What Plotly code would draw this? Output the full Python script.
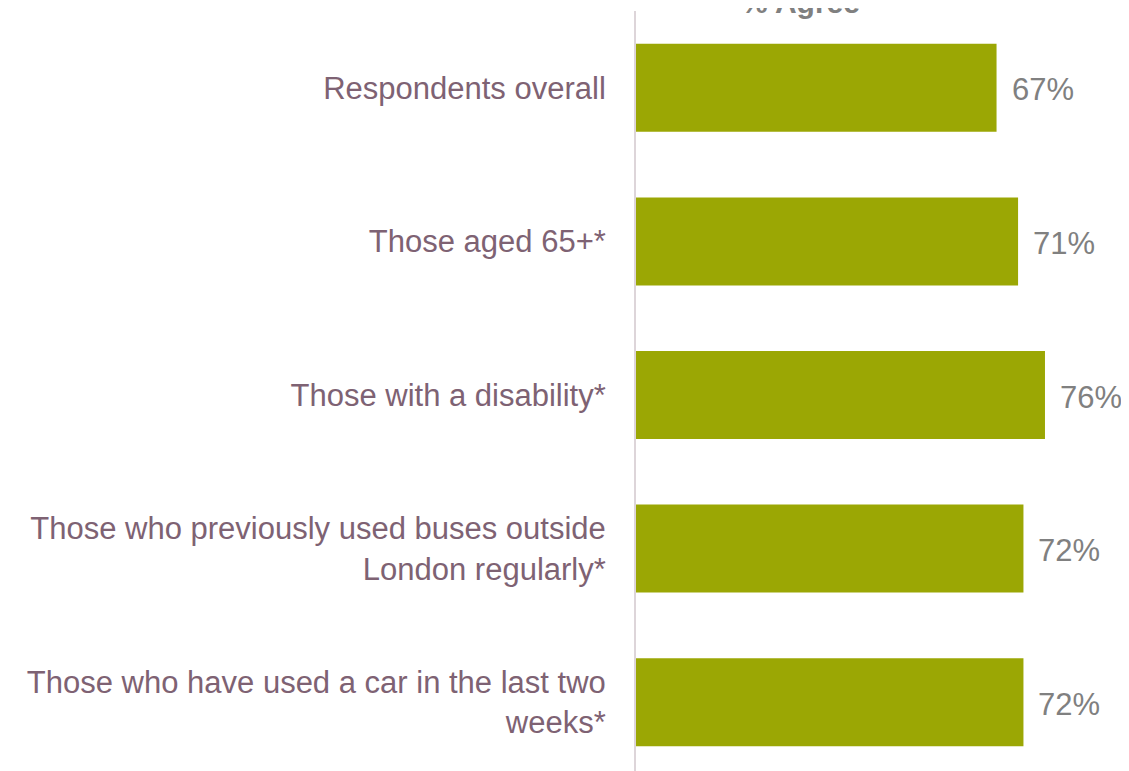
import plotly.graph_objects as go

categories = [
    "Respondents overall",
    "Those aged 65+*",
    "Those with a disability*",
    "Those who previously used buses outside<br>London regularly*",
    "Those who have used a car in the last two<br>weeks*",
]
values = [67, 71, 76, 72, 72]
value_labels = ["67%", "71%", "76%", "72%", "72%"]

bar_color = "#9BA704"
label_color = "#7E6273"
value_color = "#808080"

fig = go.Figure()
fig.add_trace(go.Bar(
    x=values,
    y=categories,
    orientation="h",
    marker=dict(color=bar_color, line=dict(width=0)),
    width=0.573,
    hoverinfo="skip",
))

for c, v, t in zip(categories, values, value_labels):
    fig.add_annotation(
        x=v, y=c, xref="x", yref="y", text=t, showarrow=False,
        xanchor="left", yanchor="middle", xshift=13, yshift=-2,
        font=dict(family="Liberation Sans, Arial", size=31, color=value_color),
    )

fig.add_annotation(
    x=0.329, y=1, xref="paper", yref="paper", text="<b>% Agree</b>",
    showarrow=False, xanchor="center", yanchor="middle", yshift=9,
    font=dict(family="Liberation Sans, Arial", size=30, color=value_color),
)

fig.update_layout(
    width=1129, height=771,
    margin=dict(l=628, r=0, t=3, b=0, pad=0),
    paper_bgcolor="white", plot_bgcolor="white",
    showlegend=False,
    xaxis=dict(range=[0, 93.1], visible=False, fixedrange=True),
    yaxis=dict(
        categoryorder="array", categoryarray=categories,
        range=[4.5, -0.5],
        showline=True, linecolor="#DDD5D9", linewidth=2,
        showgrid=False, zeroline=False, ticks="",
        ticklabelstandoff=22,
        tickfont=dict(family="Liberation Sans, Arial", size=31, color=label_color),
    ),
)

fig.write_html("out.html")
